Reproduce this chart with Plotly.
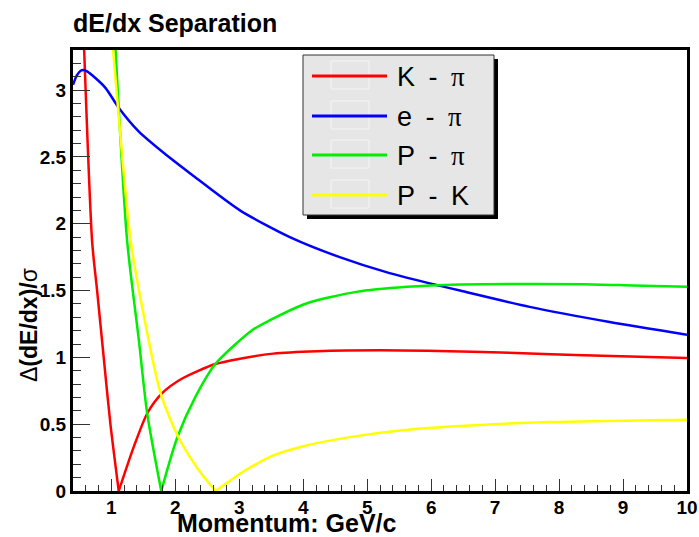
import plotly.graph_objects as go

# dE/dx separation power (in units of sigma) versus momentum
p_kpi = [0.55, 0.70, 0.777, 0.88, 0.985, 1.115, 1.35, 1.56, 1.79, 2.10, 2.625,
         3.01, 3.53, 4.21, 5.2, 6.29, 7.33, 8.38, 10.0]
sep_kpi = [3.63, 1.86, 1.50, 1.00, 0.50, 0.0, 0.33, 0.58, 0.73, 0.84, 0.95,
           0.99, 1.028, 1.046, 1.053, 1.046, 1.033, 1.016, 0.996]

p_epi = [0.40, 0.46, 0.52, 0.56, 0.62, 0.75, 0.91, 1.12, 1.43, 1.95, 2.25,
         3.01, 3.79, 4.57, 5.35, 6.14, 6.45, 7.54, 8.79, 10.0]
sep_epi = [3.04, 3.11, 3.145, 3.15, 3.14, 3.09, 3.015, 2.865, 2.69, 2.48, 2.37,
           2.10, 1.90, 1.75, 1.63, 1.535, 1.50, 1.378, 1.265, 1.17]

p_ppi = [1.02, 1.245, 1.43, 1.56, 1.78, 2.03, 2.31, 2.625, 3.20, 3.48, 4.05,
         4.83, 5.62, 6.45, 6.81, 8.375, 9.16, 10.0]
sep_ppi = [3.71, 1.88, 1.128, 0.58, 0.0, 0.40, 0.70, 0.95, 1.203, 1.278, 1.403,
           1.49, 1.528, 1.546, 1.548, 1.548, 1.538, 1.528]

p_pk = [0.99, 1.30, 1.48, 1.77, 2.05, 2.37, 2.63, 3.01, 3.20, 3.53, 4.05,
        4.73, 5.51, 6.45, 7.85, 10.0]
sep_pk = [3.51, 1.88, 1.378, 0.73, 0.40, 0.154, 0.0, 0.129, 0.184, 0.266, 0.341,
          0.403, 0.453, 0.486, 0.516, 0.534]

series_names = ["K - π", "e - π", "P - π", "P - K"]
series_colors = ["#ff0000", "#0000ff", "#00ee00", "#ffff00"]
series_x = [p_kpi, p_epi, p_ppi, p_pk]
series_y = [sep_kpi, sep_epi, sep_ppi, sep_pk]

W, H = 699, 537
L, R, T, B = 73, 12, 50, 46
FONT = "Liberation Sans, Arial, sans-serif"


def fx(px):
    return (px - L) / (W - L - R)


def fy(py):
    return (H - B - py) / (H - T - B)


fig = go.Figure()
for name, color, xs, ys in zip(series_names, series_colors, series_x, series_y):
    # curves with a zero crossing are drawn as two smooth branches meeting at the cusp
    pieces = [(xs, ys)]
    if 0.0 in ys:
        k = ys.index(0.0)
        pieces = [(xs[:k + 1], ys[:k + 1]), (xs[k:], ys[k:])]
    for px_, py_ in pieces:
        fig.add_trace(go.Scatter(x=px_, y=py_, mode="lines", name=name,
                                 line=dict(color=color, width=2.5,
                                           shape="spline", smoothing=0.7),
                                 showlegend=False))

axis_font = dict(family=FONT, size=19, color="black", weight="bold")

fig.update_xaxes(range=[0.4, 10], tick0=0, dtick=1, ticks="inside",
                 ticklen=12, tickwidth=1, tickcolor="#333",
                 minor=dict(dtick=0.2, ticks="inside", ticklen=6,
                            tickwidth=1, tickcolor="#333"),
                 showgrid=False, zeroline=False, showline=True,
                 linecolor="black", linewidth=3, mirror=True,
                 automargin=False, tickfont=axis_font, ticklabelstandoff=-3)
fig.update_yaxes(range=[0, 3.3], tick0=0, dtick=0.5, ticks="inside",
                 ticklen=17, tickwidth=1, tickcolor="#333",
                 minor=dict(dtick=0.1, ticks="inside", ticklen=8,
                            tickwidth=1, tickcolor="#333"),
                 showgrid=False, zeroline=False, showline=True,
                 linecolor="black", linewidth=3, mirror=True,
                 automargin=False, tickfont=axis_font)

shapes = []
annotations = []

# legend box with drop shadow
shapes.append(dict(type="rect", xref="paper", yref="paper",
                   x0=fx(307), x1=fx(498), y0=fy(219), y1=fy(59),
                   fillcolor="black", line=dict(width=0)))
shapes.append(dict(type="rect", xref="paper", yref="paper",
                   x0=fx(303), x1=fx(494), y0=fy(215), y1=fy(55),
                   fillcolor="#e6e6e6", line=dict(color="#333", width=1)))

legend_rows = [76, 116, 155, 195]
for name, color, cy in zip(series_names, series_colors, legend_rows):
    shapes.append(dict(type="rect", xref="paper", yref="paper",
                       x0=fx(331), x1=fx(369), y0=fy(cy + 13), y1=fy(cy - 15),
                       line=dict(color="#f5f5f5", width=1)))
    shapes.append(dict(type="line", xref="paper", yref="paper",
                       x0=fx(312), x1=fx(387), y0=fy(cy), y1=fy(cy),
                       line=dict(color=color, width=3)))
    label = name.replace(" ", "\u2002").replace(
        "π", "<span style='font-family:Liberation Serif'>π</span>")
    annotations.append(dict(xref="paper", yref="paper", x=fx(395), y=fy(cy + 1),
                            xanchor="left", yanchor="middle", showarrow=False,
                            text=label,
                            font=dict(family=FONT, size=27, color="black")))

# titles
annotations.append(dict(xref="paper", yref="paper", x=fx(71), y=fy(23),
                        xanchor="left", yanchor="middle", showarrow=False,
                        text="dE/dx Separation",
                        font=dict(family=FONT, size=25, color="black",
                                  weight="bold")))
annotations.append(dict(xref="paper", yref="paper", x=fx(175), y=fy(523),
                        xanchor="left", yanchor="middle", showarrow=False,
                        text="Momentum: GeV/c",
                        font=dict(family=FONT, size=25, color="black",
                                  weight="bold")))
annotations.append(dict(xref="paper", yref="paper", x=fx(29), y=fy(325),
                        xanchor="center", yanchor="middle", showarrow=False,
                        textangle=-90,
                        text="<span style='font-weight:normal'>Δ</span>(dE/dx)/"
                             "<span style='font-weight:normal'>σ</span>",
                        font=dict(family=FONT, size=23, color="black",
                                  weight="bold")))

fig.update_layout(width=W, height=H,
                  margin=dict(l=L, r=R, t=T, b=B, autoexpand=False),
                  paper_bgcolor="white", plot_bgcolor="white",
                  showlegend=False, shapes=shapes, annotations=annotations)

fig.write_html("out.html")
